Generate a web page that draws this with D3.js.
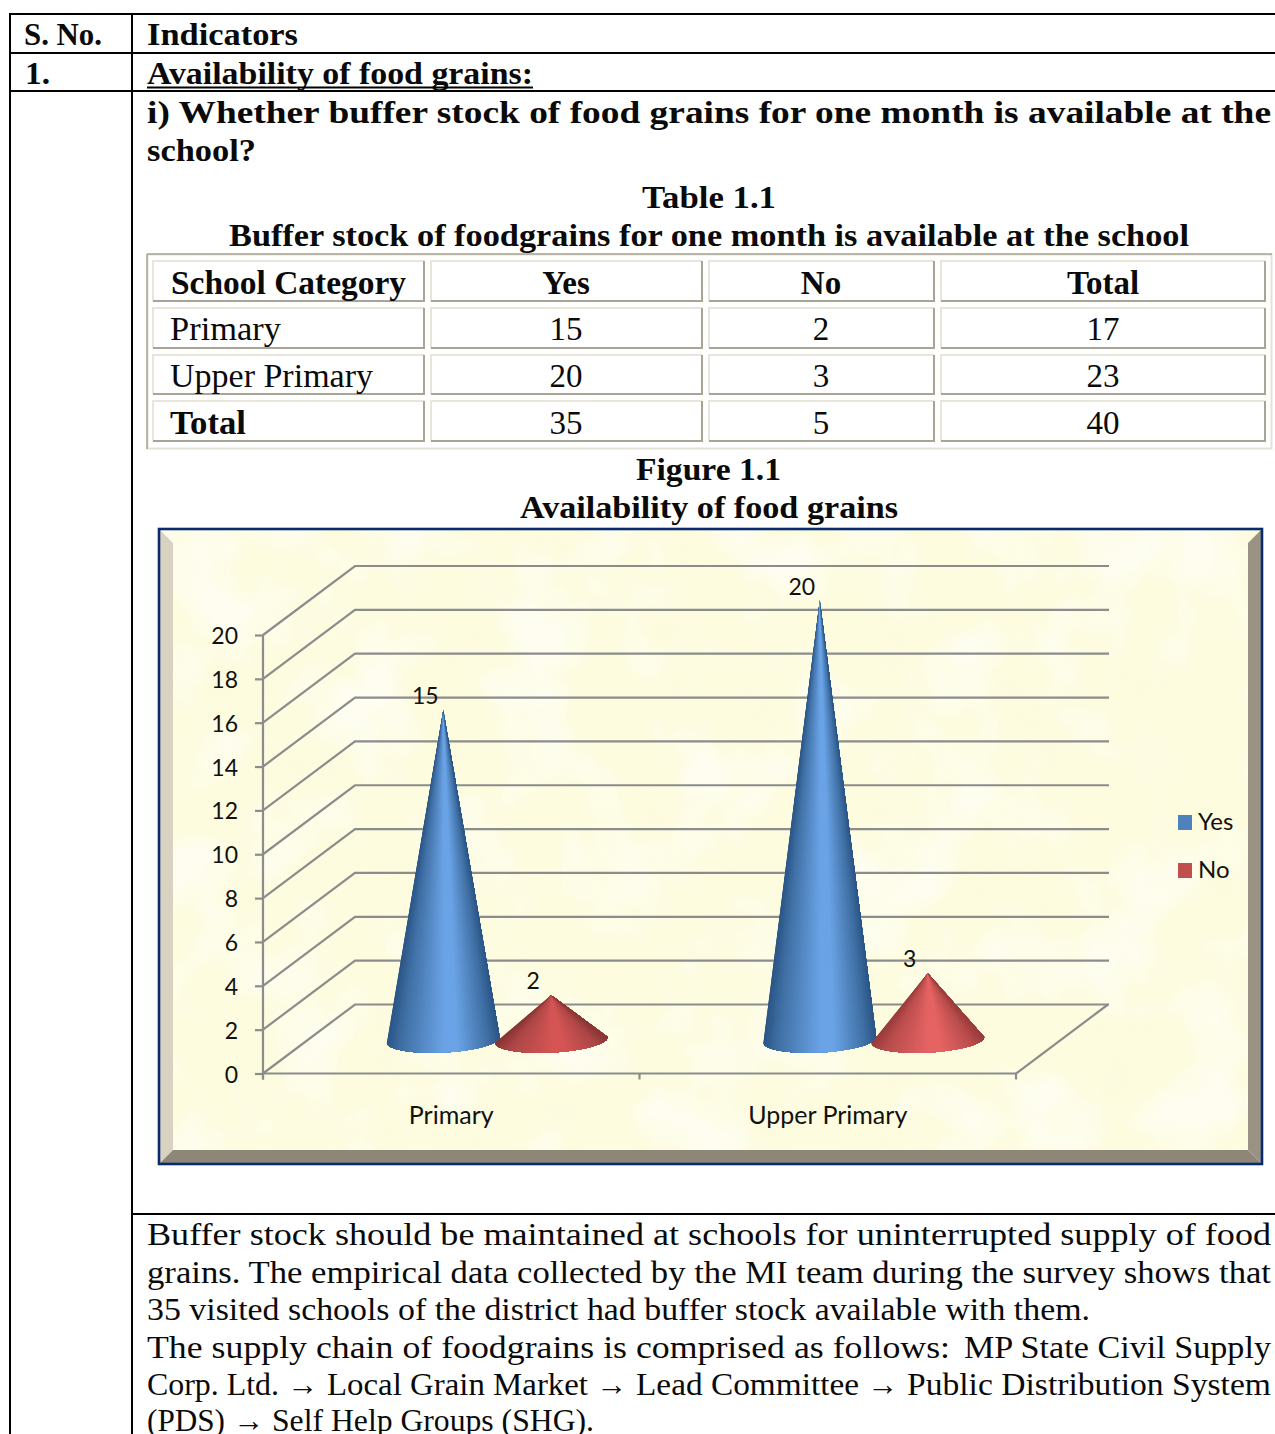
<!DOCTYPE html>
<html><head><meta charset="utf-8">
<script src="https://cdn.jsdelivr.net/npm/d3@7"></script>
<style>html,body{margin:0;padding:0;background:#fff}svg{display:block}
.doc{font-family:"Liberation Serif",serif;fill:#0a0a0a}
.ch{font-family:Lato,sans-serif;fill:#111}
</style></head><body><div id="c"></div>
<script>
// ---- chart data ----
const categories = ["Primary", "Upper Primary"];
const seriesNames = ["Yes", "No"];
const yesValues = [15, 20];
const noValues = [2, 3];
const yTicks = [0,2,4,6,8,10,12,14,16,18,20];
// ---- table data ----
const tableHeader = ["School Category","Yes","No","Total"];
const rowNames = ["Primary","Upper Primary","Total"];
const rowTotals = [17,23];

const W=1275,H=1434;
const svg=d3.select("#c").append("svg").attr("width",W).attr("height",H);
const defs=svg.append("defs");

// document text helper
function T(s,x,y,w,size,bold,anchor){
  const t=svg.append("text").attr("class","doc").attr("x",x).attr("y",y).text(s)
    .attr("font-size",size).attr("font-weight",bold?700:400);
  if(anchor) t.attr("text-anchor",anchor);
  if(w) t.attr("textLength",w).attr("lengthAdjust","spacingAndGlyphs");
  return t;
}
// outer document table
const line=(x1,y1,x2,y2,c="#000",w=2)=>svg.append("line").attr("x1",x1).attr("y1",y1).attr("x2",x2).attr("y2",y2).attr("stroke",c).attr("stroke-width",w);
line(9,14,W,14);line(9,53,W,53);line(9,91,W,91);line(132,1214,W,1214);
line(10,14,10,H);line(132,14,132,H);

T("S. No.",24,45,78,32,true);
T("Indicators",147,45,151,32,true);
T("1.",25,84,25,32,true);
T("Availability of food grains:",147,84,386,32,true);
line(147,87.5,533,87.5,"#000",2);
T("i) Whether buffer stock of food grains for one month is available at the",147,123,1124,32,true);
T("school?",147,161,109,32,true);
T("Table 1.1",642,208,134,32,true);
T("Buffer stock of foodgrains for one month is available at the school",229,246,960,32,true);

// inner table
svg.append("rect").attr("x",147.5).attr("y",254.5).attr("width",1124).attr("height",194).attr("fill","none").attr("stroke","#e4e2d6").attr("stroke-width",2);
line(147,254,1272,254,"#a8a596",1.5);line(147,254,147,449,"#a8a596",1.5);
const colX=[[153,424],[431,702],[709,934],[941,1265]];
const rowY=[[261,301],[308,348],[355,394],[401,441]];
const cols=[0,1,2,3];
const cells=[tableHeader,
  [rowNames[0],yesValues[0],noValues[0],rowTotals[0]],
  [rowNames[1],yesValues[1],noValues[1],rowTotals[1]],
  [rowNames[2],d3.sum(yesValues),d3.sum(noValues),d3.sum(rowTotals)]];
const colCentre=[0,566,821,1103];
const baselines=[294,340,387,434];
const firstW=[235,111,203,76];
const firstX=[171,170,170,170];
rowY.forEach((r,ri)=>cols.forEach(ci=>{
  const [a,b]=colX[ci];
  svg.append("path").attr("d",`M${a},${r[1]}V${r[0]}H${b}`).attr("fill","none").attr("stroke","#e8e6da").attr("stroke-width",2);
  svg.append("path").attr("d",`M${a},${r[1]}H${b}V${r[0]}`).attr("fill","none").attr("stroke","#a8a596").attr("stroke-width",2);
  const v=String(cells[ri][ci]);
  if(ci===0) T(v,firstX[ri],baselines[ri],firstW[ri],33,ri===0||ri===3);
  else T(v,colCentre[ci],baselines[ri],null,33,ri===0,"middle");
}));

T("Figure 1.1",636,480,145,32,true);
T("Availability of food grains",520,518,378,32,true);

// ---- chart frame ----
const fx0=159,fx1=1262,fy0=529,fy1=1164,b=14;
const mott=(id,freq,seed,m)=>{const f=defs.append("filter").attr("id",id).attr("x",0).attr("y",0).attr("width",1).attr("height",1);
  f.append("feTurbulence").attr("type","fractalNoise").attr("baseFrequency",freq).attr("numOctaves",3).attr("seed",seed);
  f.append("feColorMatrix").attr("values",m);};
mott("parchD",0.014,4,"0 0 0 0 0.98  0 0 0 0 0.95  0 0 0 0 0.74  0 0 0 2.6 -1.15");
mott("parchL",0.012,11,"0 0 0 0 1  0 0 0 0 1  0 0 0 0 1  0 0 0 3.2 -1.45");

const inH=fy1-fy0-2*b;
svg.append("rect").attr("x",fx0).attr("y",fy0).attr("width",fx1-fx0).attr("height",inH+b).attr("fill","#fdfcdf");
svg.append("rect").attr("x",fx0).attr("y",fy0).attr("width",fx1-fx0).attr("height",inH+b).attr("filter","url(#parchD)").attr("opacity",.22);
svg.append("rect").attr("x",fx0).attr("y",fy0).attr("width",fx1-fx0).attr("height",inH+b).attr("filter","url(#parchL)").attr("opacity",.55);
const poly=(p,c)=>svg.append("polygon").attr("points",p.map(q=>q.join(",")).join(" ")).attr("fill",c);
poly([[fx0,fy0],[fx0+b,fy0+b],[fx0+b,fy1-b],[fx0,fy1]],"#d8d2c0");
poly([[fx1,fy0],[fx1,fy1],[fx1-b,fy1-b],[fx1-b,fy0+b]],"#9a9282");
poly([[fx0,fy1],[fx0+b,fy1-b],[fx1-b,fy1-b],[fx1,fy1]],"#8e8677");
svg.append("rect").attr("x",fx0).attr("y",fy0).attr("width",fx1-fx0).attr("height",fy1-fy0).attr("fill","none").attr("stroke","#0a2a6e").attr("stroke-width",2.6);

// ---- 3D chart ----
const y=d3.scaleLinear().domain([0,20]).range([1073.5,635]);
const x=d3.scaleBand().domain(categories).range([263,1016]);
const depthX=92,depthY=-69;
const grid="#8c8c8c";
const wall=svg.append("g").attr("stroke",grid).attr("stroke-width",2.2).attr("fill","none");
yTicks.forEach(t=>{
  wall.append("path").attr("d",d3.line()([[263,y(t)],[263+depthX,y(t)+depthY],[1016+depthX+1,y(t)+depthY]]));
});
wall.append("path").attr("d",d3.line()([[1016,y(0)],[1016+depthX,y(0)+depthY]]));

const yAxis=svg.append("g").attr("class","ch").attr("transform","translate(263,0)")
  .call(d3.axisLeft(y).tickValues(yTicks).tickSize(8).tickPadding(17).tickFormat(d3.format("d")));
yAxis.selectAll("path.domain,line").attr("stroke",grid).attr("stroke-width",2.2);
yAxis.select("path.domain").attr("d",`M0,${y(20)}V${y(0)+6}`);
yAxis.selectAll("text").attr("font-family","Lato,sans-serif").attr("font-size",23).attr("fill","#111").attr("dy","0.37em");

const xAxis=svg.append("g").attr("transform",`translate(0,${y(0)})`)
  .call(d3.axisBottom(x).tickSize(0).tickPadding(33));
xAxis.select("path.domain").attr("stroke",grid).attr("stroke-width",2.2).attr("d","M263,0H1016");
xAxis.selectAll("text").attr("font-family","Lato,sans-serif").attr("font-size",25).attr("fill","#111");
[263,...categories.map(c=>x(c)+x.bandwidth())].forEach(px=>line(px,y(0),px,y(0)+6,grid,2.2));

// cone shading: colour by horizontal position on the base, converging at the apex
const shade=(dark,mid,light)=>d3.scaleLinear().domain([0,.12,.5,.62,.9,1]).range([dark,mid,light,light,mid,dark]).interpolate(d3.interpolateRgb);
const palettes={
  yes:shade("#2b5687","#3f6fa3","#6aa3e6"),
  no0:shade("#8a3636","#ad4646","#d55454"),
  no1:shade("#9a3c3c","#b94c4c","#e56363")
};
const inner=d3.scaleBand().domain(seriesNames).range([-108,108]);
const rx=inner.bandwidth()*0.523, ry=12.5, tilt=-3*Math.PI/180;
const baseY=y(0)+depthY/2+1;
const cone=(cx,val,pal,label)=>{
  const top=y(val)+depthY/2;
  const pt=a=>{const ex=rx*Math.cos(a),ey=ry*Math.sin(a);
    return [cx+ex*Math.cos(tilt)-ey*Math.sin(tilt), baseY+ex*Math.sin(tilt)+ey*Math.cos(tilt)];};
  const n=70, rim=d3.range(n+1).map(i=>pt(Math.PI*(1-i/n))), g=svg.append("g");
  // painted left to right: each layer covers everything still to its right, so no seams show
  d3.range(n).forEach(i=>{
    const u=(Math.cos(Math.PI*(1-(i+.5)/n))+1)/2;
    g.append("path").attr("d",d3.line()([[cx,top],...rim.slice(i)])+"Z").attr("fill",pal(u));
  });
  svg.append("text").attr("class","ch").attr("x",cx-18).attr("y",top-6).attr("text-anchor","middle").attr("font-size",23).text(label);
};
categories.forEach((c,i)=>{
  const cx=x(c)+x.bandwidth()/2+depthX/2;
  cone(cx+inner("Yes")+inner.bandwidth()/2,yesValues[i],palettes.yes,yesValues[i]);
  cone(cx+inner("No")+inner.bandwidth()/2,noValues[i],i?palettes.no1:palettes.no0,noValues[i]);
});

// legend
const legendColors=["#4f81bd","#c0504d"];
seriesNames.forEach((s,i)=>{
  const ly=815+i*48;
  svg.append("rect").attr("x",1178).attr("y",ly).attr("width",14).attr("height",15).attr("fill",legendColors[i]);
  svg.append("text").attr("class","ch").attr("x",1198).attr("y",ly+15).attr("font-size",24).text(s);
});

// body text
T("Buffer stock should be maintained at schools for uninterrupted supply of food",147,1245,1124,32);
T("grains. The empirical data collected by the MI team during the survey shows that",147,1283,1124,32);
T("35 visited schools of the district had buffer stock available with them.",147,1320,943,32);
T("The supply chain of foodgrains is comprised as follows:",147,1358,803,32);
T("MP State Civil Supply",964,1358,307,32);
T("Corp. Ltd.",147,1395,132,32);
T("→",287,1395,31,32);
T("Local Grain Market",327,1395,261,32);
T("→",596,1395,31,32);
T("Lead Committee",636,1395,223,32);
T("→",867,1395,31,32);
T("Public Distribution System",907,1395,364,32);
T("(PDS)",147,1431,78,32);
T("→",233,1431,31,32);
T("Self Help Groups (SHG).",272,1431,322,32);
</script></body></html>
